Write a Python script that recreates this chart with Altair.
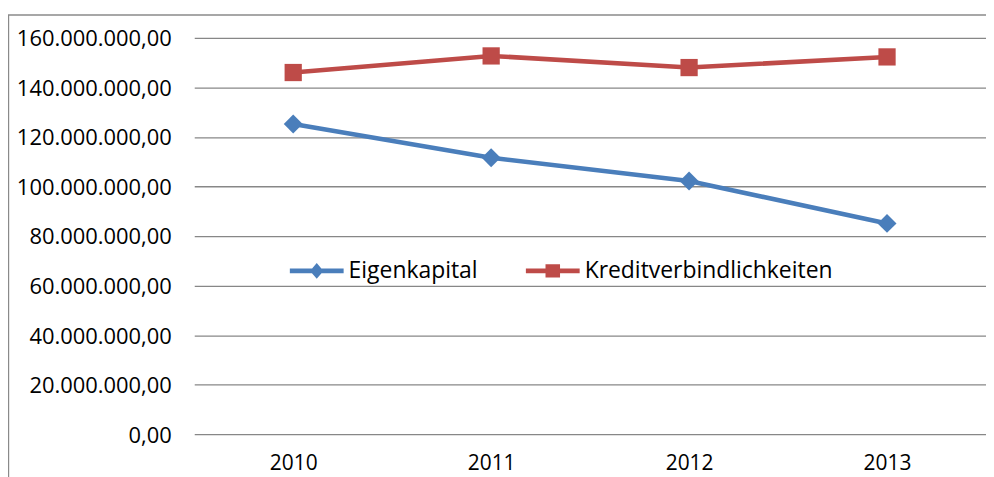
import altair as alt
import pandas as pd

years = ["2010", "2011", "2012", "2013"]
series_names = ["Eigenkapital", "Kreditverbindlichkeiten"]
eigenkapital = [125.2e6, 111.6e6, 102.2e6, 85.1e6]
kredit = [146.0e6, 152.7e6, 148.0e6, 152.3e6]
y_ticks = [0, 20e6, 40e6, 60e6, 80e6, 100e6, 120e6, 140e6, 160e6]
colors = ["#4A7EBB", "#BE4B48"]

rows = []
for y, v in zip(years, eigenkapital):
    rows.append({"year": y, "series": series_names[0], "value": v})
for y, v in zip(years, kredit):
    rows.append({"year": y, "series": series_names[1], "value": v})
df = pd.DataFrame(rows)

FONT = "Open Sans"

label_expr = (
    "replace(join(split(join(split(format(datum.value, ',.2f'), '.'), ';'), ','), '.'), ';', ',')"
)

x_enc = alt.X(
    "year:N",
    sort=years,
    scale=alt.Scale(type="point", padding=0.5),
    axis=alt.Axis(
        title=None, domain=False, ticks=False, grid=False,
        labelFont=FONT, labelFontSize=21, labelColor="#000000",
        labelPadding=18, labelAngle=0,
    ),
)
y_enc = alt.Y(
    "value:Q",
    scale=alt.Scale(domain=[0, 160e6], nice=False, zero=True),
    axis=alt.Axis(
        title=None, domain=False, ticks=False, values=y_ticks,
        labelExpr=label_expr, labelFont=FONT, labelFontSize=22,
        labelColor="#000000", labelPadding=23, labelOffset=1,
        grid=True, gridColor="#878787", gridWidth=1.3,
    ),
)

base = alt.Chart(df)

border = alt.Chart(pd.DataFrame({"b": [0]})).mark_rect(
    filled=False, stroke="#8A8A8A", strokeWidth=1.4
).encode(
    x=alt.value(-186.5), x2=alt.value(830),
    y=alt.value(-23), y2=alt.value(480),
)

path_e = "M-1,-0.09L1,-0.09L1,0.09L-1,0.09Z M-0.25,0L0,-0.29L0.25,0L0,0.29Z"
path_k = "M-1,-0.09L1,-0.09L1,0.09L-1,0.09Z M-0.27,-0.25L0.27,-0.25L0.27,0.25L-0.27,0.25Z"

legend = alt.Legend(
    title=None, orient="none", legendX=96, legendY=207, direction="horizontal",
    symbolSize=2916, symbolStrokeWidth=0,
    labelFont=FONT, labelFontSize=23, labelColor="#000000", labelOffset=5,
    columnPadding=48, padding=0, labelLimit=400,
)

lines = base.mark_line(strokeWidth=4.6).encode(
    x=x_enc, y=y_enc,
    color=alt.Color("series:N", scale=alt.Scale(domain=series_names, range=colors), legend=legend),
    shape=alt.Shape("series:N", scale=alt.Scale(domain=series_names, range=[path_e, path_k]), legend=legend),
)

pts_e = base.transform_filter(alt.datum.series == series_names[0]).mark_point(
    filled=True, shape="diamond", size=361, opacity=1, color=colors[0]
).encode(x=x_enc, y=y_enc)

pts_k = base.transform_filter(alt.datum.series == series_names[1]).mark_point(
    filled=True, shape="square", size=300, opacity=1, color=colors[1]
).encode(x=x_enc, y=y_enc)

chart = alt.layer(border, lines, pts_e, pts_k).properties(
    width=795, height=398,
    autosize=alt.AutoSizeParams(type="none"),
    padding={"left": 187, "top": 29, "right": 0, "bottom": 42},
    background="#FFFFFF",
).configure_view(stroke=None)

chart.save("out.html", embed_options={"renderer": "svg", "actions": False})
